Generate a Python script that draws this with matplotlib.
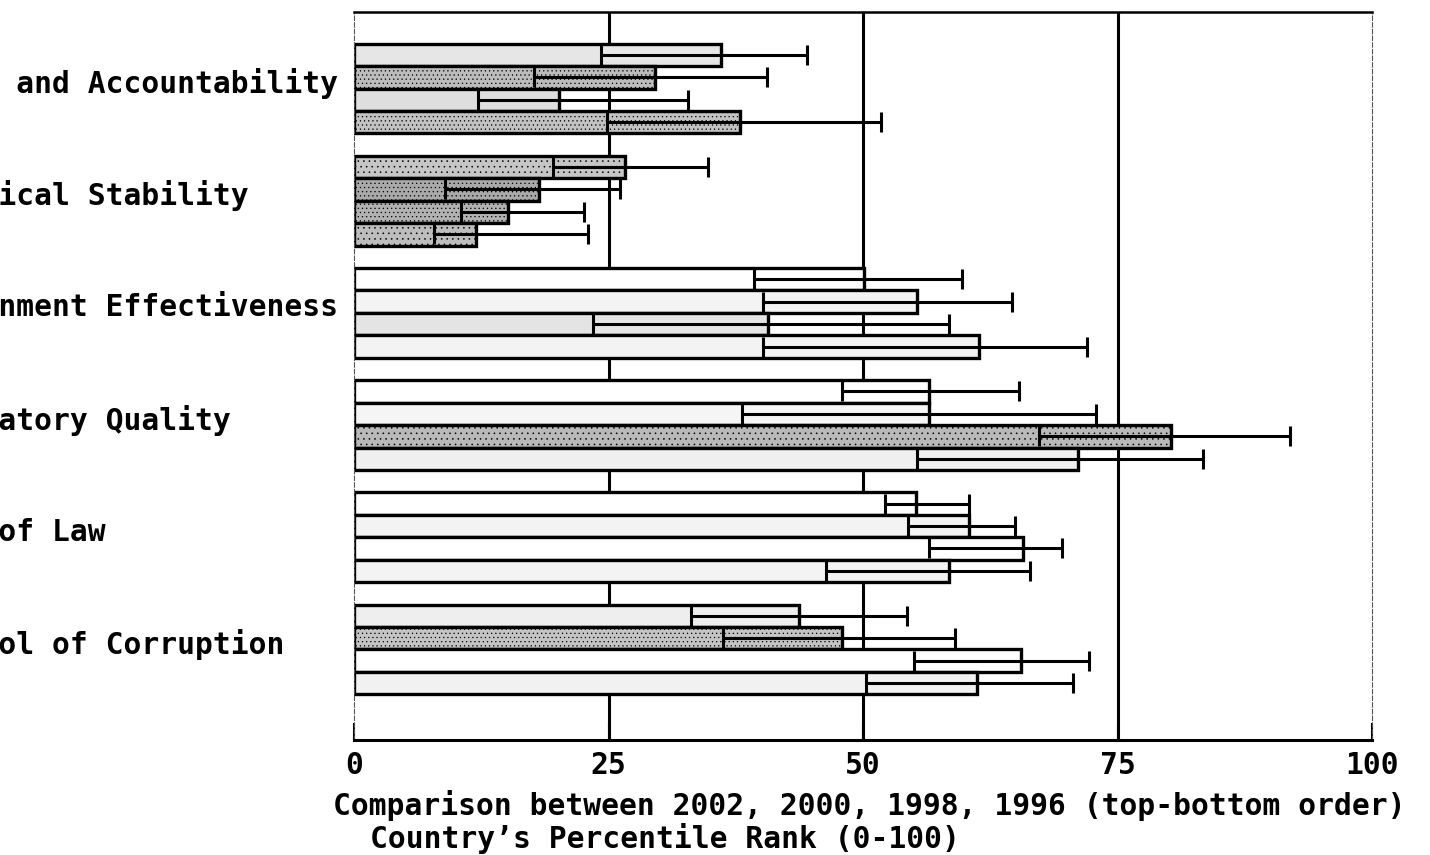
import matplotlib
matplotlib.use("Agg")
import matplotlib.pyplot as plt
import numpy as np

# governance indicators, percentile ranks for 2002, 2000, 1998, 1996 (top to bottom)
categories = ["Voice and Accountability", "Political Stability",
              "Government Effectiveness", "Regulatory Quality",
              "Rule of Law", "Control of Corruption"]
years = [2002, 2000, 1998, 1996]

rank = [[36.1, 29.6, 20.1, 37.9],
        [26.6, 18.2, 15.1, 12.0],
        [50.1, 55.3, 40.7, 61.4],
        [56.5, 56.5, 80.3, 71.1],
        [55.2, 60.4, 65.7, 58.4],
        [43.7, 47.9, 65.5, 61.2]]
lower = [[24.3, 17.7, 12.2, 24.9],
         [19.5, 8.9, 10.5, 7.9],
         [39.3, 40.2, 23.5, 40.2],
         [47.9, 38.1, 67.3, 55.3],
         [52.2, 54.4, 56.5, 46.4],
         [33.1, 36.2, 55.0, 50.3]]
upper = [[44.5, 40.6, 32.8, 51.8],
         [34.8, 26.1, 22.6, 23.0],
         [59.7, 64.6, 58.4, 72.0],
         [65.3, 72.9, 91.9, 83.4],
         [60.4, 64.9, 69.5, 66.4],
         [54.3, 59.0, 72.2, 70.6]]

# fill shade and stipple of each bar (scanned look)
shades = [["#e6e6e6", "#bcbcbc", "#dedede", "#c2c2c2"],
          ["#c6c6c6", "#a9a9a9", "#b2b2b2", "#bdbdbd"],
          ["#ffffff", "#f3f3f3", "#e4e4e4", "#f3f3f3"],
          ["#ffffff", "#f5f5f5", "#b9b9b9", "#efefef"],
          ["#ffffff", "#f3f3f3", "#ffffff", "#f3f3f3"],
          ["#eeeeee", "#c4c4c4", "#ffffff", "#f1f1f1"]]
stipple = [["", "....", "", "...."],
           ["...", "....", "....", "..."],
           ["", "", "", ""],
           ["", "", "...", ""],
           ["", "", "", ""],
           ["", "....", "", ""]]

plt.rcParams["font.family"] = ["DejaVu Sans Mono"]
plt.rcParams["font.weight"] = "bold"
plt.rcParams["hatch.linewidth"] = 0.4

fs = 21.3
fig = plt.figure(figsize=(14.3, 8.55), dpi=100)
ax = fig.add_axes([354 / 1430, 1 - 740 / 855, 1018 / 1430, 728 / 855])

bar_h = 0.2
for g in range(len(categories)):
    for b in range(len(years)):
        y = g + (b - 1.5) * bar_h
        v = rank[g][b]
        ax.barh(y, v, height=bar_h, color=shades[g][b], edgecolor="black",
                linewidth=2.4, hatch=stipple[g][b], zorder=2)
        ax.errorbar(v, y, xerr=[[v - lower[g][b]], [upper[g][b] - v]],
                    fmt="none", ecolor="black", elinewidth=2.2,
                    capsize=7, capthick=2.2, zorder=3)

ax.set_xlim(0, 100)
ax.set_ylim(5.807, -0.682)
ax.set_xticks([0, 25, 50, 75, 100])
ax.set_xticklabels(["0", "25", "50", "75", "100"], fontsize=fs)
ax.tick_params(axis="x", direction="in", length=12, width=1.5, pad=8)

for x in [25, 50, 75]:
    ax.axvline(x, color="black", linewidth=2.2, zorder=1)

# category labels start left of the figure edge, as in the scan
ax.set_yticks([])
for g, name in enumerate(categories):
    ax.text(-445 / 1018, g - 0.045, name, transform=ax.get_yaxis_transform(),
            fontsize=fs, ha="left", va="center", clip_on=False)

ax.spines["bottom"].set_linewidth(2.2)
ax.spines["top"].set_linewidth(1.8)
for side in ["left", "right"]:
    ax.spines[side].set_linewidth(0.8)
    ax.spines[side].set_linestyle((0, (4, 2)))
    ax.spines[side].set_color("#555555")

fig.text(333 / 1430, 1 - 805 / 855,
         "Comparison between 2002, 2000, 1998, 1996 (top-bottom order)",
         fontsize=fs, ha="left", va="center")
fig.text(370 / 1430, 1 - 838 / 855, "Country\u2019s Percentile Rank (0-100)",
         fontsize=fs, ha="left", va="center")

fig.savefig("out.png", dpi=100)
